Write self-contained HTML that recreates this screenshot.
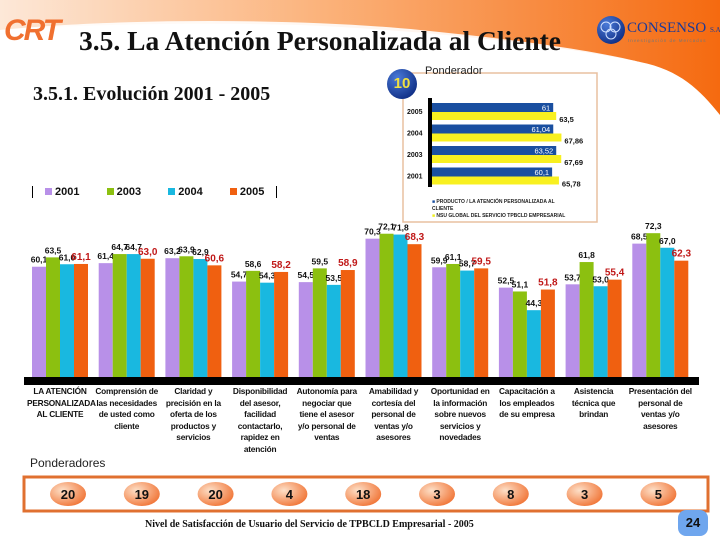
<!DOCTYPE html>
<html><head><meta charset="utf-8">
<style>
body{margin:0;width:720px;height:540px;overflow:hidden;background:#fff;font-family:"Liberation Sans",sans-serif;position:relative}
.abs{position:absolute}
.cat{position:absolute;top:386px;width:66px;text-align:center;font:bold 8.3px/11.5px "Liberation Sans",sans-serif;color:#111;letter-spacing:-0.2px}
</style></head><body>
<svg class="abs" style="left:0;top:0" width="720" height="540">
<defs>
<linearGradient id="hg" x1="0" x2="1" y1="0" y2="0"><stop offset="0" stop-color="#fde8d8"/><stop offset="0.45" stop-color="#fbb27a"/><stop offset="1" stop-color="#f56a10"/></linearGradient>
<radialGradient id="ov" cx="0.35" cy="0.35" r="0.75"><stop offset="0" stop-color="#fde0c8"/><stop offset="1" stop-color="#f07030"/></radialGradient>
<radialGradient id="bc" cx="0.35" cy="0.3" r="0.8"><stop offset="0" stop-color="#4a7ad8"/><stop offset="1" stop-color="#0c2a80"/></radialGradient>
</defs>
<path d="M0,0 H720 V115 C700,90 680,70 640,62 C560,45 420,30 300,25 C180,22 80,25 0,30 Z" fill="url(#hg)"/>
<path d="M0,30 C120,18 300,18 420,30 C520,40 590,50 640,62 C600,60 500,48 380,42 C250,36 120,38 0,48 Z" fill="#fff" opacity="0.9"/>
<circle cx="611" cy="30" r="14" fill="url(#bc)"/>
<circle cx="606" cy="27" r="5" fill="none" stroke="#cfe0ff" stroke-width="1"/><circle cx="615" cy="27" r="5" fill="none" stroke="#cfe0ff" stroke-width="1"/><circle cx="611" cy="34" r="5" fill="none" stroke="#cfe0ff" stroke-width="1"/>
<rect x="403" y="73" width="194" height="149" fill="#fff" stroke="#e8c0a0" stroke-width="1.5"/>
<circle cx="402" cy="84" r="15" fill="url(#bc)"/>
<rect x="24" y="377" width="675" height="8" fill="#000"/>
<rect x="24" y="477" width="684" height="34" fill="none" stroke="#e07030" stroke-width="3"/>
<rect x="678" y="510" width="30" height="26" rx="8" fill="#6fa6ee"/>
<g id="main"></g><g id="inset"></g><g id="ovals"></g>
</svg>
<div class="abs" style="left:4px;top:14px;font:italic bold 30px 'Liberation Sans',sans-serif;color:#f07030;letter-spacing:-2px">CRT</div>
<div class="abs" style="left:79px;top:25px;font:bold 27.5px 'Liberation Serif',serif;color:#111;white-space:nowrap">3.5. La Atención Personalizada al Cliente</div>
<div class="abs" style="left:627px;top:20px;font:15px 'Liberation Serif',serif;color:#1a3a9a;white-space:nowrap">CONSENSO <span style="font-size:7px">S.A.</span></div>
<div class="abs" style="left:628px;top:38px;font:4.5px 'Liberation Sans',sans-serif;color:#777;letter-spacing:1px;white-space:nowrap">Investigación de Mercados</div>
<div class="abs" style="left:33px;top:83px;font:bold 20px 'Liberation Serif',serif;color:#111;white-space:nowrap">3.5.1. Evolución 2001 - 2005</div>
<div class="abs" style="left:425px;top:65px;font:11px 'Liberation Sans',sans-serif;color:#222">Ponderador</div>
<div class="abs" style="left:391px;top:75px;width:22px;text-align:center;font:bold 15px 'Liberation Sans',sans-serif;color:#f0e040">10</div>
<div class="abs" style="left:432px;top:199px;font:bold 5px/7px 'Liberation Sans',sans-serif;color:#222"><span style="color:#1a4fa0">■</span> PRODUCTO / LA ATENCIÓN PERSONALIZADA AL<br>CLIENTE<br><span style="color:#f0f020">■</span> NSU GLOBAL DEL SERVICIO TPBCLD EMPRESARIAL</div>
<div class="abs" style="left:32px;top:186px;font:bold 11px 'Liberation Sans',sans-serif;color:#111;white-space:nowrap">
<span style="border-left:1px solid #000;padding-left:12px"></span>
<span><span style="display:inline-block;width:7px;height:7px;background:#b890e8"></span> 2001</span>
<span style="margin-left:24px"><span style="display:inline-block;width:7px;height:7px;background:#8cc010"></span> 2003</span>
<span style="margin-left:24px"><span style="display:inline-block;width:7px;height:7px;background:#19b8e0"></span> 2004</span>
<span style="margin-left:24px"><span style="display:inline-block;width:7px;height:7px;background:#f06010"></span> 2005</span>
<span style="border-left:1px solid #000;margin-left:12px"></span></div>
<div id="cats"></div>
<div class="abs" style="left:30px;top:456px;font:12px 'Liberation Sans',sans-serif;color:#222">Ponderadores</div>
<div class="abs" style="left:145px;top:519px;font:bold 10px 'Liberation Serif',serif;color:#111">Nivel de Satisfacción de Usuario del Servicio de TPBCLD Empresarial - 2005</div>
<div class="abs" style="left:678px;top:515px;width:30px;text-align:center;font:bold 13px 'Liberation Sans',sans-serif;color:#111">24</div>
<script>
const categories=["LA ATENCIÓN PERSONALIZADA AL CLIENTE","Comprensión de las necesidades de usted como cliente","Claridad y precisión en la oferta de los productos y servicios","Disponibilidad del asesor, facilidad contactarlo, rapidez en atención","Autonomía para negociar que tiene el asesor y/o personal de ventas","Amabilidad y cortesía del personal de ventas y/o asesores","Oportunidad en la información sobre nuevos servicios y novedades","Capacitación a los empleados de su empresa","Asistencia técnica que brindan","Presentación del personal de ventas y/o asesores"];
const years=["2001","2003","2004","2005"];
const s2001=[60.1,61.4,63.2,54.7,54.5,70.3,59.9,52.5,53.7,68.5];
const s2003=[63.5,64.7,63.9,58.6,59.5,72.1,61.1,51.1,61.8,72.3];
const s2004=[61.0,64.7,62.9,54.3,53.5,71.8,58.7,44.3,53.0,67.0];
const s2005=[61.1,63.0,60.6,58.2,58.9,68.3,59.5,51.8,55.4,62.3];
const weights=[20,19,20,4,18,3,8,3,5];
const insetYears=["2005","2004","2003","2001"];
const insetProduct=[61,61.04,63.52,60.1];
const insetGlobal=[63.5,67.86,67.69,65.78];
const NS="http://www.w3.org/2000/svg";
const colors=["#b890e8","#8cc010","#19b8e0","#f06010"];
const series=[s2001,s2003,s2004,s2005];
const base=377,vmin=20,k=2.75,x0=32,pitch=66.7,bw=14;
const yS=v=>base-(v-vmin)*k;
const xS=(i,j)=>x0+i*pitch+j*bw;
const wS=i=>68+i*73.8;
function mk(tag,attrs,parent){const e=document.createElementNS(NS,tag);for(const a in attrs)e.setAttribute(a,attrs[a]);parent.appendChild(e);return e;}
const g=document.getElementById('main');
categories.forEach((c,i)=>{series.forEach((s,j)=>{
 const r=mk('rect',{x:xS(i,j),y:yS(s[i]),width:bw,height:base-yS(s[i]),fill:colors[j]},g);
 
 
 const t=mk('text',{x:xS(i,j)+bw/2,y:yS(s[i])-4,'text-anchor':'middle','font-family':'Liberation Sans','font-size':j==3?10:8.5,'font-weight':'bold',fill:j==3?'#c01818':'#111'},g);
 t.textContent=s[i].toFixed(1).replace('.',',');
 
 
});
 const d=document.createElement('div');d.className='cat';
 d.style.left=(x0+i*pitch+28-33)+'px';d.textContent=c;
 
 
 document.getElementById('cats').appendChild(d);
});
const ov=document.getElementById('ovals');
weights.forEach((w,i)=>{
 const cxx=wS(i);
 const e=mk('ellipse',{cx:cxx,cy:494,rx:18,ry:12,fill:'url(#ov)'},ov);
 
 
 const t=mk('text',{x:cxx,y:499,'text-anchor':'middle','font-family':'Liberation Sans','font-size':13,'font-weight':'bold',fill:'#111'},ov);
 t.textContent=w;
 
 
});
const ig=document.getElementById('inset');
const ix=432,ik=1.2,im=-40,iy0=103,ip=21.5;
const ax=mk('rect',{x:428,y:98,width:4,height:89,fill:'#000'},ig);


insetYears.forEach((y,i)=>{const yy=iy0+i*ip;
 const b1=mk('rect',{x:ix,y:yy,width:(insetProduct[i]-im)*ik,height:9,fill:'#1a4fa0'},ig);
 
 
 const b2=mk('rect',{x:ix,y:yy+9,width:(insetGlobal[i]-im)*ik,height:8,fill:'#f8f020'},ig);
 
 
 const l=mk('text',{x:407,y:yy+11,'font-family':'Liberation Sans','font-size':7,'font-weight':'bold',fill:'#111'},ig);l.textContent=y;
 
 
 const v1=mk('text',{x:ix+(insetProduct[i]-im)*ik-3,y:yy+7.5,'text-anchor':'end','font-family':'Liberation Sans','font-size':7.5,fill:'#fff'},ig);v1.textContent=String(insetProduct[i]).replace('.',',');
 
 
 const v2=mk('text',{x:ix+(insetGlobal[i]-im)*ik+3,y:yy+19,'font-family':'Liberation Sans','font-size':7.5,'font-weight':'bold',fill:'#111'},ig);v2.textContent=String(insetGlobal[i]).replace('.',',');
 
 
});
</script>
</body></html>
